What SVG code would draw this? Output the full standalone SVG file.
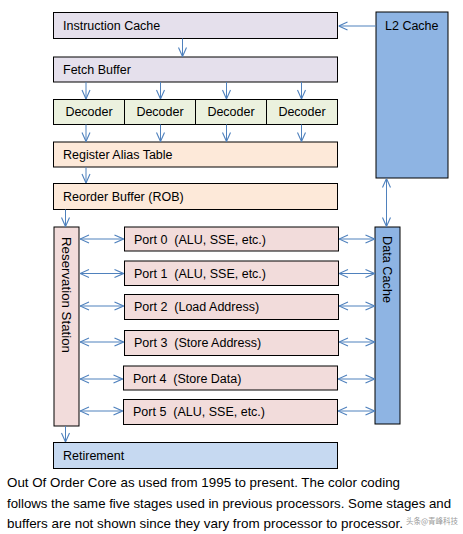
<svg xmlns="http://www.w3.org/2000/svg" width="463" height="534" viewBox="0 0 463 534">
<defs>
<marker id="ah" viewBox="0 0 10 10" refX="10" refY="5" markerWidth="10" markerHeight="10" markerUnits="userSpaceOnUse" orient="auto-start-reverse">
<path d="M1,1 L10,5 L1,9" fill="none" stroke="#4f81bd" stroke-width="1.1"/>
</marker>
<style>
.box{stroke:#000;stroke-width:1}
.lav{fill:#e5e0ec}
.grn{fill:#ebf1de}
.pch{fill:#fde9d9}
.pnk{fill:#f2dcdb}
.blu{fill:#8eb4e3}
.lbl{fill:#c6d9f1}
.t{font-family:"Liberation Sans",Arial,sans-serif;font-size:12.5px;fill:#000}
.cap{font-family:"Liberation Sans",Arial,sans-serif;font-size:13px;fill:#000}
.c line{stroke:#4f81bd;stroke-width:1;marker-end:url(#ah)}
.c line.bi{marker-start:url(#ah)}
</style>
</defs>
<rect width="463" height="534" fill="#fff"/>
<g id="instruction-cache"><rect class="box lav" x="53.5" y="12.5" width="284" height="26"/><text class="t" x="63" y="29.5">Instruction Cache</text></g>
<g id="l2-cache"><rect class="box blu" x="376" y="12" width="72" height="166"/><text class="t" x="385" y="29.5">L2 Cache</text></g>
<g id="fetch-buffer"><rect class="box lav" x="53.5" y="57" width="284" height="25"/><text class="t" x="63" y="73.5">Fetch Buffer</text></g>
<g id="decoder-1"><rect class="box grn" x="53.5" y="99.5" width="71" height="25"/><text class="t" x="89" y="116" text-anchor="middle">Decoder</text></g>
<g id="decoder-2"><rect class="box grn" x="124.5" y="99.5" width="71" height="25"/><text class="t" x="160" y="116" text-anchor="middle">Decoder</text></g>
<g id="decoder-3"><rect class="box grn" x="195.5" y="99.5" width="71" height="25"/><text class="t" x="231" y="116" text-anchor="middle">Decoder</text></g>
<g id="decoder-4"><rect class="box grn" x="266.5" y="99.5" width="71" height="25"/><text class="t" x="302" y="116" text-anchor="middle">Decoder</text></g>
<g id="register-alias-table"><rect class="box pch" x="53.5" y="142" width="284" height="25"/><text class="t" x="63" y="158.5">Register Alias Table</text></g>
<g id="reorder-buffer"><rect class="box pch" x="53.5" y="183.5" width="284" height="26"/><text class="t" x="63" y="200.5">Reorder Buffer (ROB)</text></g>
<g id="reservation-station"><rect class="box pnk" x="54" y="227" width="25" height="199"/><text class="t" transform="translate(62,237) rotate(90)" textLength="116" lengthAdjust="spacingAndGlyphs">Reservation Station</text></g>
<g id="data-cache"><rect class="box blu" x="375" y="227" width="25" height="197"/><text class="t" transform="translate(383,236) rotate(90)" textLength="67" lengthAdjust="spacingAndGlyphs">Data Cache</text></g>
<g id="port-0"><rect class="box pnk" x="124.5" y="227" width="214" height="24"/><text class="t" x="134" y="243.5" xml:space="preserve">Port 0  (ALU, SSE, etc.)</text></g>
<g id="port-1"><rect class="box pnk" x="124.5" y="261" width="214" height="24.5"/><text class="t" x="134" y="277.5" xml:space="preserve">Port 1  (ALU, SSE, etc.)</text></g>
<g id="port-2"><rect class="box pnk" x="124.5" y="294.5" width="214" height="25"/><text class="t" x="134" y="311" xml:space="preserve">Port 2  (Load Address)</text></g>
<g id="port-3"><rect class="box pnk" x="124.5" y="330.5" width="214" height="25"/><text class="t" x="134" y="347" xml:space="preserve">Port 3  (Store Address)</text></g>
<g id="port-4"><rect class="box pnk" x="123.5" y="366" width="214" height="24"/><text class="t" x="133" y="382.5" xml:space="preserve">Port 4  (Store Data)</text></g>
<g id="port-5"><rect class="box pnk" x="123.5" y="399.5" width="214" height="25"/><text class="t" x="133" y="416" xml:space="preserve">Port 5  (ALU, SSE, etc.)</text></g>
<g id="retirement"><rect class="box lbl" x="53.5" y="442.5" width="284" height="26"/><text class="t" x="63" y="459.5">Retirement</text></g>
<g id="connectors" class="c">
<line x1="376" y1="26" x2="338.5" y2="26"/>
<line x1="182.5" y1="38.5" x2="182.5" y2="56.5"/>
<line x1="86" y1="82" x2="86" y2="99"/>
<line x1="160.5" y1="82" x2="160.5" y2="99"/>
<line x1="226.5" y1="82" x2="226.5" y2="99"/>
<line x1="301.5" y1="82" x2="301.5" y2="99"/>
<line x1="86" y1="124.5" x2="86" y2="141.5"/>
<line x1="160.5" y1="124.5" x2="160.5" y2="141.5"/>
<line x1="226.5" y1="124.5" x2="226.5" y2="141.5"/>
<line x1="301.5" y1="124.5" x2="301.5" y2="141.5"/>
<line x1="86" y1="167" x2="86" y2="183"/>
<line x1="65.5" y1="209.5" x2="65.5" y2="226.5"/>
<line class="bi" x1="386.5" y1="178.5" x2="386.5" y2="226.5"/>
<line class="bi" x1="80" y1="239" x2="123.5" y2="239"/>
<line class="bi" x1="80" y1="273.5" x2="123.5" y2="273.5"/>
<line class="bi" x1="80" y1="306" x2="123.5" y2="306"/>
<line class="bi" x1="80" y1="342" x2="123.5" y2="342"/>
<line class="bi" x1="80" y1="379" x2="122.5" y2="379"/>
<line class="bi" x1="80" y1="411" x2="122.5" y2="411"/>
<line class="bi" x1="339" y1="239" x2="374.5" y2="239"/>
<line class="bi" x1="339" y1="273.5" x2="374.5" y2="273.5"/>
<line class="bi" x1="339" y1="306" x2="374.5" y2="306"/>
<line class="bi" x1="339" y1="342" x2="374.5" y2="342"/>
<line class="bi" x1="338" y1="379" x2="374.5" y2="379"/>
<line class="bi" x1="338" y1="411" x2="374.5" y2="411"/>
<line x1="65.5" y1="426" x2="65.5" y2="442"/>
</g>
<text class="cap" x="7" y="487" textLength="393" lengthAdjust="spacingAndGlyphs">Out Of Order Core as used from 1995  to present. The color coding</text>
<text class="cap" x="7" y="508" textLength="444" lengthAdjust="spacingAndGlyphs">follows the same five stages used in previous processors. Some stages and</text>
<text class="cap" x="7" y="528" textLength="396" lengthAdjust="spacingAndGlyphs">buffers are not shown since they vary from processor to processor.</text>
<text x="406" y="524" font-family="'Noto Sans CJK SC',sans-serif" font-size="7.5" fill="#9a9a9a">头条@青峰科技</text>
</svg>
